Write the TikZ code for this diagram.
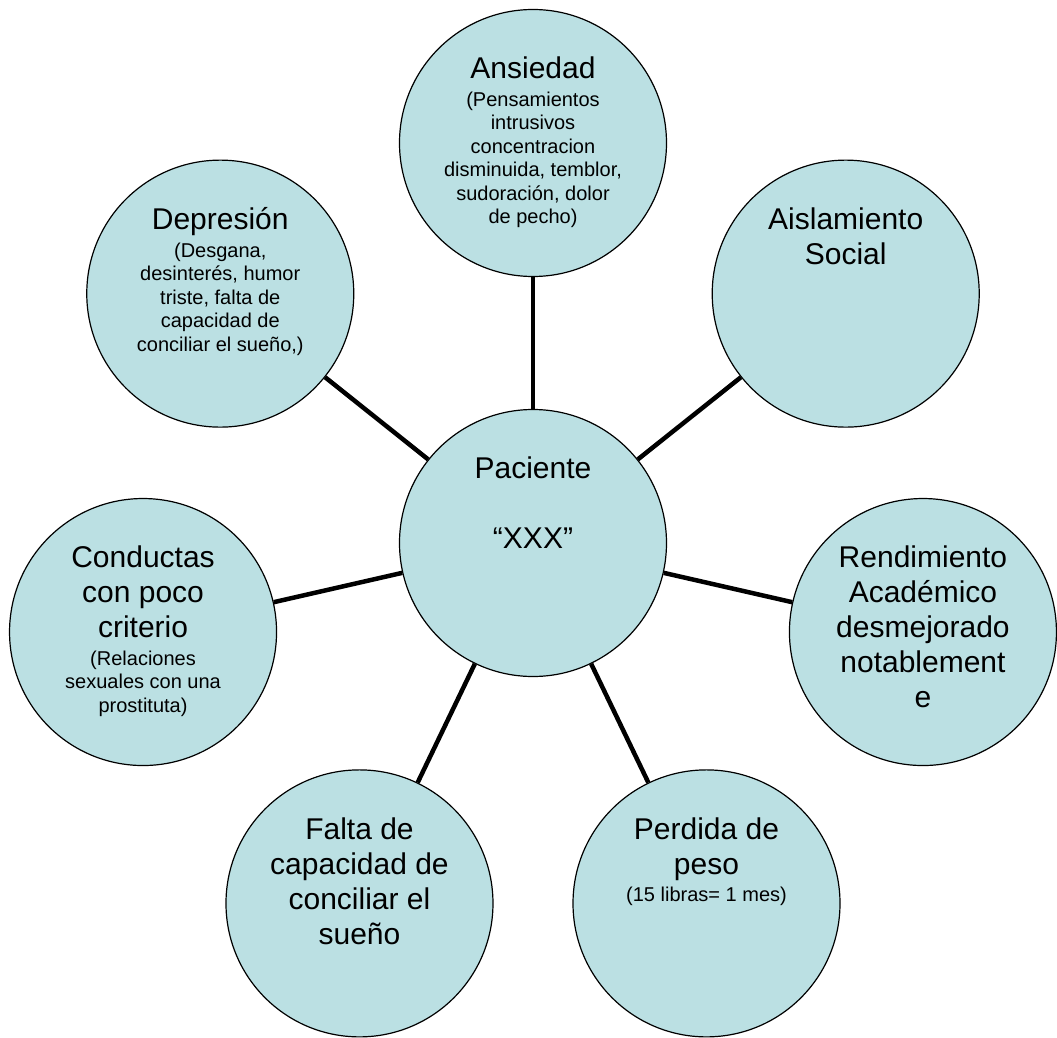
\documentclass[tikz,border=0pt]{standalone}
\usepackage{fontspec}
\setmainfont{Liberation Sans}
\usepackage{tikz}
\usetikzlibrary{calc}
\definecolor{burbuja}{RGB}{187,224,227}
\newcommand{\tit}[1]{{\fontsize{30}{34.5}\selectfont #1}}
\newcommand{\letrita}{\fontsize{20}{23.5}\selectfont\lineskiplimit-100pt\relax}

\begin{document}
\begin{tikzpicture}[x=1pt,y=1pt,
    globo/.style={circle,draw,line width=1.2pt,fill=burbuja,minimum size=267pt,inner sep=0pt},
    texto/.style={anchor=north,align=center,inner sep=0pt,font=\letrita},
    rayo/.style={line width=4.5pt}]
            \useasboundingbox (-533,-494) rectangle (524,543);
            \node[globo] (pac) at (0,0) {};
            \node[globo] (ans) at (90:400) {};
            \node[globo] (dep) at (141.43:400) {};
            \node[globo] (con) at (192.86:400) {};
            \node[globo] (fal) at (244.29:400) {};
            \node[globo] (per) at (295.71:400) {};
            \node[globo] (ren) at (347.14:400) {};
            \node[globo] (ais) at (38.57:400) {};
            \foreach \n in {ans,dep,con,fal,per,ren,ais}
                \draw[rayo] (pac)--(\n);
            \node[texto] (pacT) at ([yshift=-48]pac.north) {\tit{Paciente}\\[11.5pt] \\[11.5pt]\tit{“XXX”}};
            \node[texto] (ansT) at ([yshift=-48]ans.north) {\tit{Ansiedad}\\[4pt]
                (Pensamientos\\intrusivos\\concentracion\\disminuida, temblor,\\sudoración, dolor\\de pecho)};
            \node[texto] (depT) at ([yshift=-48]dep.north) {\tit{Depresión}\\[4pt]
                (Desgana,\\desinterés, humor\\triste, falta de\\capacidad de\\conciliar el sueño,)};
            \node[texto] (aisT) at ([yshift=-48]ais.north) {\tit{Aislamiento}\\[11.5pt]\tit{Social}};
            \node[texto] (renT) at ([yshift=-48]ren.north) {\tit{Rendimiento}\\[11.5pt]\tit{Académico}\\[11.5pt]
                \tit{desmejorado}\\[11.5pt]\tit{notablement}\\[11.5pt]\tit{e}};
            \node[texto] (perT) at ([yshift=-48]per.north) {\tit{Perdida de}\\[11.5pt]\tit{peso}\\[4pt]
                (15 libras= 1 mes)};
            \node[texto] (falT) at ([yshift=-48]fal.north) {\tit{Falta de}\\[11.5pt]\tit{capacidad de}\\[11.5pt]
                \tit{conciliar el}\\[11.5pt]\tit{sueño}};
            \node[texto] (conT) at ([yshift=-48]con.north) {\tit{Conductas}\\[11.5pt]\tit{con poco}\\[11.5pt]
                \tit{criterio}\\[4pt](Relaciones\\sexuales con una\\prostituta)};
        \end{tikzpicture}
\end{document}
